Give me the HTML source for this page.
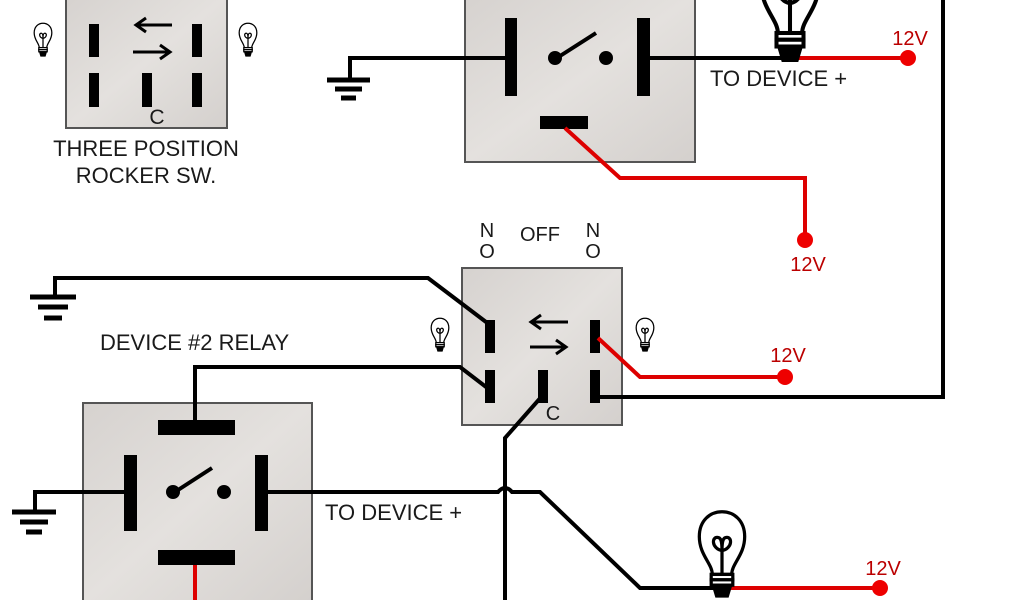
<!DOCTYPE html>
<html><head><meta charset="utf-8"><style>
html,body{margin:0;padding:0;background:#fff;}
svg{display:block;}
text{font-family:"Liberation Sans",sans-serif;fill:#1a1a1a;}
</style></head><body>
<svg width="1024" height="600" viewBox="0 0 1024 600" xmlns="http://www.w3.org/2000/svg">
<defs>
<linearGradient id="bx" x1="0" y1="0" x2="1" y2="1"><stop offset="0" stop-color="#d6d2cf"/><stop offset="0.5" stop-color="#e4e1de"/><stop offset="1" stop-color="#d4d0cd"/></linearGradient>
<g id="lamp" fill="none" stroke="#000" stroke-width="3">
<path d="M-9,-20 C-9,-30 -21,-38 -21,-55 C-21,-70 -11,-78 0,-78 C11,-78 21,-70 21,-55 C21,-38 9,-30 9,-20 Z" fill="#fff"/>
<path d="M0,-20 V-42 M0,-42 C-10,-44 -10,-56 -3,-54 C0,-53 0,-46 0,-42 C0,-46 0,-53 3,-54 C10,-56 10,-44 0,-42"/>
<rect x="-10" y="-20" width="20" height="5" fill="#fff"/>
<rect x="-10" y="-15" width="20" height="5" fill="#fff"/>
<path d="M-8,-10 H8 L5,0 H-5 Z" fill="#000"/>
</g>
</defs>

<!-- boxes first -->
<rect x="66" y="-4" width="161" height="132" fill="url(#bx)" stroke="#555" stroke-width="2"/>
<rect x="465" y="-4" width="230" height="166" fill="url(#bx)" stroke="#555" stroke-width="2"/>
<rect x="462" y="268" width="160" height="157" fill="url(#bx)" stroke="#555" stroke-width="2"/>
<rect x="83" y="403" width="229" height="200" fill="url(#bx)" stroke="#555" stroke-width="2"/>

<!-- top-left switch -->
<g fill="#000">
<rect x="89" y="24" width="10" height="33"/><rect x="89" y="73" width="10" height="34"/>
<rect x="142" y="73" width="10" height="34"/>
<rect x="192" y="24" width="10" height="33"/><rect x="192" y="73" width="10" height="34"/>
</g>
<g stroke="#000" stroke-width="3" fill="none">
<path d="M172,25 H137 M146,18 L136,25 L146,32"/>
<path d="M133,52 H169 M160,45 L170,52 L160,59"/>
</g>
<text x="157" y="124" font-size="21" text-anchor="middle">C</text>
<use href="#lamp" transform="translate(43,56) scale(0.42)"/>
<use href="#lamp" transform="translate(248,56) scale(0.42)"/>
<text x="146" y="156" font-size="22" text-anchor="middle">THREE POSITION</text>
<text x="146" y="183" font-size="22" text-anchor="middle">ROCKER SW.</text>

<!-- top relay -->
<g stroke="#000" stroke-width="4" fill="none">
<path d="M510,58 H350 V80"/>
<path d="M327,80 H370 M335,89 H362 M341,98 H356" stroke-width="5"/>
<path d="M648,58 H790"/>
<path d="M560,56 L596,33"/>
<path d="M943,0 V397 H598"/>
</g>
<g fill="#000">
<rect x="505" y="18" width="12" height="78"/><rect x="637" y="18" width="13" height="78"/>
<rect x="540" y="116" width="48" height="13"/>
<circle cx="555" cy="58" r="7"/><circle cx="606" cy="58" r="7"/>
</g>
<path d="M565,128 L620,178 H805 V240" stroke="#d00" stroke-width="4" fill="none"/>
<circle cx="805" cy="240" r="8" fill="#e00"/>
<text x="808" y="271" font-size="20" fill="#b00" style="fill:#b00" text-anchor="middle">12V</text>
<path d="M795,58 H908" stroke="#d00" stroke-width="4"/>
<circle cx="908" cy="58" r="8" fill="#e00"/>
<text x="910" y="45" font-size="20" style="fill:#b00" text-anchor="middle">12V</text>
<use href="#lamp" transform="translate(790,60) scale(1.35)"/>
<text x="710" y="86" font-size="22">TO DEVICE +</text>

<!-- middle rocker -->
<g font-size="20" text-anchor="middle">
<text x="487" y="237">N</text><text x="487" y="258">O</text>
<text x="540" y="241">OFF</text>
<text x="593" y="237">N</text><text x="593" y="258">O</text>
<text x="553" y="420">C</text>
</g>
<g stroke="#000" stroke-width="4" fill="none">
<path d="M490,325 L428,278 H55 V296"/>
<path d="M30,297 H76 M38,307 H68 M44,318 H62" stroke-width="5"/>
<path d="M490,390 L460,367 H195 V425"/>
<path d="M543,395 L505,438 V600"/>
<path d="M268,492 H498 Q505,484 512,492 H540 L640,588 H722"/>
<path d="M124,492 H35 V510"/>
<path d="M12,512 H56 M20,522 H48 M26,532 H42" stroke-width="5"/>
<path d="M178,490 L212,468"/>
</g>
<g stroke="#000" stroke-width="3" fill="none">
<path d="M568,322 H532 M541,315 L531,322 L541,329"/>
<path d="M530,347 H565 M556,340 L566,347 L556,354"/>
</g>
<g fill="#000">
<rect x="485" y="320" width="10" height="33"/><rect x="485" y="370" width="10" height="33"/>
<rect x="538" y="370" width="10" height="33"/>
<rect x="590" y="320" width="10" height="33"/><rect x="590" y="370" width="10" height="33"/>
</g>
<use href="#lamp" transform="translate(440,351) scale(0.42)"/>
<use href="#lamp" transform="translate(645,351) scale(0.42)"/>
<path d="M598,338 L640,377 H785" stroke="#d00" stroke-width="4" fill="none"/>
<circle cx="785" cy="377" r="8" fill="#e00"/>
<text x="788" y="362" font-size="20" style="fill:#b00" text-anchor="middle">12V</text>
<text x="100" y="350" font-size="22">DEVICE #2 RELAY</text>

<!-- bottom relay -->
<g fill="#000">
<rect x="158" y="420" width="77" height="15"/>
<rect x="124" y="455" width="13" height="76"/><rect x="255" y="455" width="13" height="76"/>
<rect x="158" y="550" width="77" height="15"/>
<circle cx="173" cy="492" r="7"/><circle cx="224" cy="492" r="7"/>
</g>
<path d="M195,565 V600" stroke="#d00" stroke-width="4"/>
<text x="325" y="520" font-size="22">TO DEVICE +</text>
<path d="M728,588 H880" stroke="#d00" stroke-width="4"/>
<circle cx="880" cy="588" r="8" fill="#e00"/>
<text x="883" y="575" font-size="20" style="fill:#b00" text-anchor="middle">12V</text>
<use href="#lamp" transform="translate(722,596) scale(1.08)"/>
</svg>
</body></html>
